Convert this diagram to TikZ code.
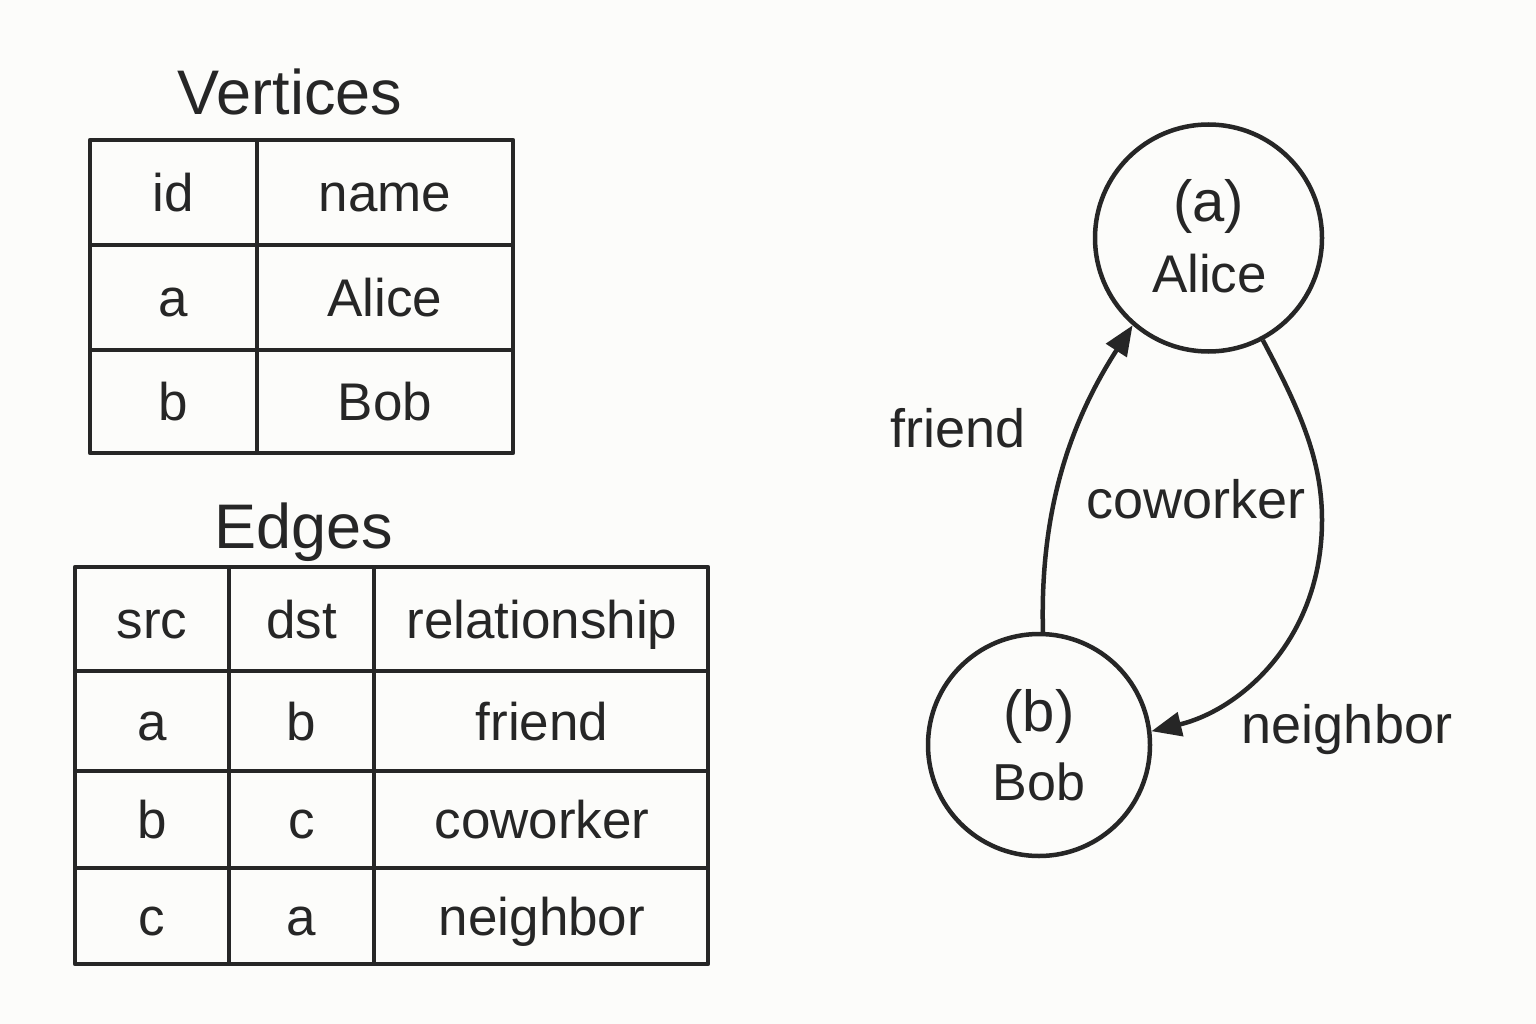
\documentclass[tikz,border=0pt]{standalone}
\usepackage{fontspec}
\setmainfont{Liberation Sans}
\usetikzlibrary{arrows.meta}
\definecolor{ink}{RGB}{38,38,38}
\definecolor{bg}{RGB}{252,252,250}
\begin{document}
\begin{tikzpicture}[x=1pt,y=-1pt,
  grid/.style={draw=ink, line width=4.5pt, line join=round},
  cell/.style={text=ink, font=\fontsize{53}{60}\selectfont, text height=38pt, text depth=0pt, inner sep=0pt},
  ttl/.style={text=ink, font=\fontsize{63}{70}\selectfont, inner sep=0pt, anchor=base},
  vertex/.style={circle, draw=ink, line width=4.5pt, inner sep=0pt},
  vlabel/.style={text=ink, inner sep=0pt, anchor=base},
  elabel/.style={text=ink, font=\fontsize{54}{60}\selectfont, inner sep=0pt, anchor=base},
  edgeline/.style={draw=ink, line width=4.5pt, -{Triangle[length=30pt,width=24pt]}}
]
\useasboundingbox[fill=bg] (0,0) rectangle (1536,1024);

% Vertices table
\node[ttl] (vtitle) at (290,115) {Vertices};
\draw[grid] (90,140) rectangle (513,453);
\draw[grid] (257,140) -- (257,453);
\draw[grid] (90,245) -- (513,245);
\draw[grid] (90,350) -- (513,350);
\node[cell] (v11) at (173.5,192.5) {id};
\node[cell] (v12) at (385,192.5) {name};
\node[cell] (v21) at (173.5,297.5) {a};
\node[cell] (v22) at (385,297.5) {Alice};
\node[cell] (v31) at (173.5,401.5) {b};
\node[cell] (v32) at (385,401.5) {Bob};

% Edges table
\node[ttl] (etitle) at (304,548) {Edges};
\draw[grid] (75,567) rectangle (708,964);
\draw[grid] (229,567) -- (229,964);
\draw[grid] (374,567) -- (374,964);
\draw[grid] (75,671) -- (708,671);
\draw[grid] (75,771) -- (708,771);
\draw[grid] (75,868) -- (708,868);
\node[cell] (e11) at (152,619) {src};
\node[cell] (e12) at (301.5,619) {dst};
\node[cell] (e13) at (542,619) {relationship};
\node[cell] (e21) at (152,721) {a};
\node[cell] (e22) at (301.5,721) {b};
\node[cell] (e23) at (542,721) {friend};
\node[cell] (e31) at (152,819.5) {b};
\node[cell] (e32) at (301.5,819.5) {c};
\node[cell] (e33) at (542,819.5) {coworker};
\node[cell] (e41) at (152,916) {c};
\node[cell] (e42) at (301.5,916) {a};
\node[cell] (e43) at (542,916) {neighbor};

% Graph
\node[vertex, minimum size=227pt] (a) at (1208.5,238) {};
\node[vertex, minimum size=222pt] (b) at (1039,745) {};
\node[vlabel, font=\fontsize{58}{60}\selectfont] (aid) at (1208.5,222) {(a)};
\node[vlabel, font=\fontsize{53}{60}\selectfont] (aname) at (1209.5,293) {Alice};
\node[vlabel, font=\fontsize{58}{60}\selectfont] (bid) at (1039,731) {(b)};
\node[vlabel, font=\fontsize{52}{60}\selectfont] (bname) at (1039,800) {Bob};

\draw[edgeline] (b.88) .. controls (1040,520) and (1065,430) .. (a.229);
\draw[edgeline] (a.298) .. controls (1300,410) and (1322,460) .. (1322,520)
  .. controls (1322,640) and (1240,710) .. (b.7);

\node[elabel] (lfriend) at (958,447) {friend};
\node[elabel] (lcoworker) at (1196,518) {coworker};
\node[elabel] (lneighbor) at (1347,743) {neighbor};
\end{tikzpicture}
\end{document}
